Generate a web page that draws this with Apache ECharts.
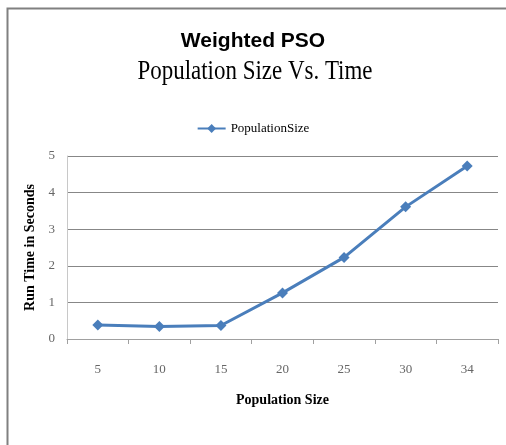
<!DOCTYPE html>
<html>
<head>
<meta charset="utf-8">
<script src="https://cdn.jsdelivr.net/npm/echarts@6/dist/echarts.min.js"></script>
<style>
  html, body { margin: 0; padding: 0; background: #fff; }
  #main { width: 506px; height: 445px; }
</style>
</head>
<body>
<div id="main"></div>
<script>
var popSizes = ['5', '10', '15', '20', '25', '30', '34'];
var runTimes = [0.38, 0.34, 0.37, 1.26, 2.23, 3.61, 4.73];
var yTicks = [0, 1, 2, 3, 4, 5];

var blue = '#4a7ebb';

var option = {
    animation: false,
    backgroundColor: '#fff',
    legend: {
        top: 117,
        left: 'center',
        itemWidth: 28,
        itemHeight: 11,
        itemGap: 4,
        textStyle: {
            fontFamily: 'Liberation Serif',
            fontSize: 13,
            color: '#000'
        },
        data: ['PopulationSize']
    },
    graphic: [{
        type: 'rect',
        shape: { x: 7.5, y: 8.5, width: 520, height: 470 },
        style: { fill: 'none', stroke: '#808080', lineWidth: 2 },
        silent: true
    }, {
        // title line 1
        type: 'text',
        x: 253,
        y: 41,
        scaleX: 1.0,
        style: {
            text: 'Weighted PSO',
            font: 'bold 21px "Liberation Sans"',
            fill: '#000',
            textAlign: 'center',
            textVerticalAlign: 'middle'
        }
    }, {
        // title line 2
        type: 'text',
        x: 255,
        y: 72,
        scaleX: 0.85,
        style: {
            text: 'Population Size Vs. Time',
            font: '27px "Liberation Serif"',
            fill: '#000',
            textAlign: 'center',
            textVerticalAlign: 'middle'
        }
    }],
    grid: {
        left: 67,
        right: 8,
        top: 156,
        bottom: 106
    },
    xAxis: {
        type: 'category',
        data: popSizes,
        boundaryGap: true,
        name: 'Population Size',
        nameLocation: 'middle',
        nameGap: 54,
        nameTextStyle: {
            fontFamily: 'Liberation Serif',
            fontWeight: 'bold',
            fontSize: 14,
            color: '#000'
        },
        axisLine: { lineStyle: { color: '#a0a0a0', width: 1 } },
        axisTick: { show: true, length: 5, lineStyle: { color: '#a0a0a0' } },
        axisLabel: {
            margin: 24,
            fontFamily: 'Liberation Serif',
            fontSize: 13,
            color: '#666'
        },
        splitLine: { show: false }
    },
    yAxis: {
        type: 'value',
        min: 0,
        max: 5,
        interval: 1,
        name: 'Run Time in Seconds',
        nameLocation: 'middle',
        nameGap: 25,
        nameTextStyle: {
            fontFamily: 'Liberation Serif',
            fontWeight: 'bold',
            fontSize: 14,
            color: '#000'
        },
        axisLine: { show: true, lineStyle: { color: '#c8c8c8' } },
        axisTick: { show: false },
        axisLabel: {
            margin: 12,
            fontFamily: 'Liberation Serif',
            fontSize: 13,
            color: '#666',
            formatter: function (v) { return yTicks.indexOf(v) >= 0 ? String(v) : ''; }
        },
        splitLine: { show: true, lineStyle: { color: '#878787', width: 1 } }
    },
    series: [{
        name: 'PopulationSize',
        type: 'line',
        data: runTimes,
        symbol: 'diamond',
        symbolSize: 11,
        itemStyle: { color: blue },
        lineStyle: { color: blue, width: 3 }
    }]
};

var chart = echarts.init(document.getElementById('main'));
chart.setOption(option);
</script>
</body>
</html>
